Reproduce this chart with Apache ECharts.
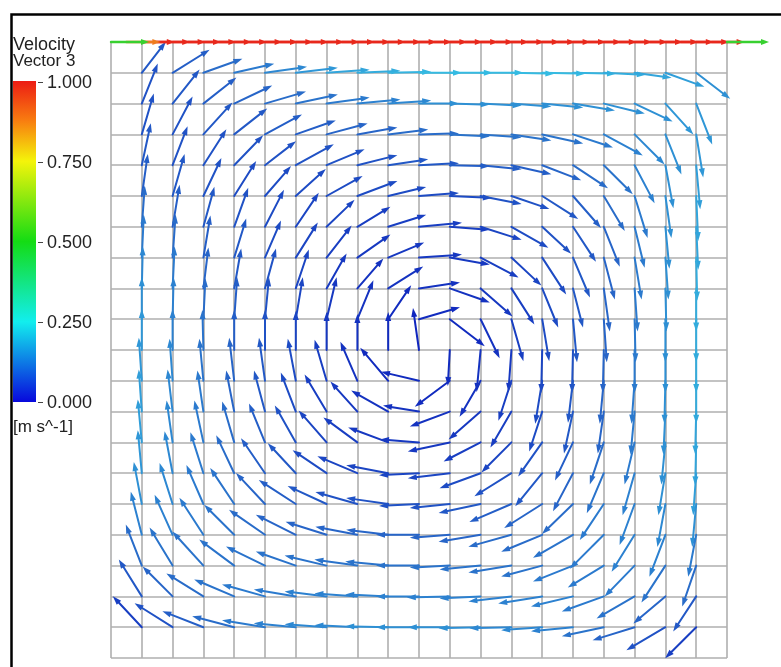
<!DOCTYPE html>
<html><head><meta charset="utf-8">
<script src="https://cdn.jsdelivr.net/npm/echarts/dist/echarts.min.js"></script>
<style>html,body{margin:0;padding:0;background:#fff}#c{width:781px;height:667px}</style>
</head><body><div id="c"></div>
<script>
// ---- data ----
// interior nodes: columns x = 1..19, rows y = 19..1 (top row first)
const nodeCols = [1,2,3,4,5,6,7,8,9,10,11,12,13,14,15,16,17,18,19];
const nodeRows = [19,18,17,16,15,14,13,12,11,10,9,8,7,6,5,4,3,2,1];
// arrow x-component (reading units, right positive)
const arrowDX = [
 [24,37,39,40,42,42,43,43,43,43,43,43,43,43,43,42,37,39,34],
 [16,27,33,38,41,42,43,43,43,40,40,41,40,41,42,41,38,28,16],
 [12,20,29,33,37,40,41,40,40,40,40,41,40,41,40,39,30,16,7],
 [9,15,23,29,31,38,38,40,40,40,40,41,40,39,35,29,20,8,4],
 [6,12,18,22,26,30,36,40,38,40,42,41,38,36,28,21,13,6,2],
 [3,7,11,14,19,23,28,33,38,43,40,41,37,29,23,16,10,4,2],
 [2,3,7,12,16,22,25,33,36,43,40,38,30,24,17,11,7,3,1],
 [1,2,5,7,11,13,20,26,35,41,40,32,23,16,10,6,3,1,0],
 [0,1,2,3,4,7,10,16,23,41,35,19,12,7,4,3,1,0,0],
 [0,0,-1,0,0,0,0,0,0,-6,-2,-4,-3,-1,-1,-1,0,0,0],
 [-3,-3,-4,-5,-6,-8,-12,-17,-28,-38,-35,-21,-13,-7,-5,-4,-3,-1,0],
 [-3,-5,-6,-8,-11,-15,-22,-27,-37,-36,-40,-32,-21,-13,-9,-6,-4,-2,-1],
 [-4,-6,-9,-12,-16,-21,-28,-34,-40,-39,-42,-37,-30,-24,-18,-14,-10,-4,-1],
 [-4,-8,-13,-18,-24,-28,-34,-40,-42,-40,-42,-41,-37,-27,-20,-17,-12,-7,-3],
 [-8,-13,-17,-24,-29,-37,-39,-42,-42,-40,-40,-42,-42,-38,-31,-24,-15,-8,-4],
 [-11,-18,-24,-30,-36,-40,-41,-42,-42,-43,-40,-42,-43,-41,-40,-34,-23,-16,-8],
 [-16,-23,-31,-35,-39,-40,-42,-43,-43,-43,-40,-41,-43,-41,-40,-36,-30,-24,-14],
 [-23,-30,-37,-40,-43,-42,-42,-43,-43,-43,-43,-41,-43,-44,-42,-42,-38,-32,-23],
 [-29,-38,-41,-42,-43,-42,-42,-43,-43,-43,-42,-42,-42,-41,-42,-42,-42,-39,-31]
];
// arrow y-component as measured on screen (down positive)
const arrowDY = [
 [-31,-23,-14,-9,-6,-5,-3,-2,-1,0,0,0,1,1,1,2,5,14,26],
 [-40,-34,-26,-18,-12,-9,-6,-4,-3,0,1,2,3,4,7,10,18,31,41],
 [-41,-38,-32,-26,-20,-14,-11,-7,-5,-1,2,3,6,9,13,21,30,40,43],
 [-42,-39,-36,-30,-24,-21,-16,-10,-6,-2,1,4,9,15,23,29,38,43,44],
 [-42,-42,-38,-35,-30,-27,-20,-15,-9,-3,2,8,13,23,32,35,42,42,45],
 [-41,-42,-40,-39,-37,-34,-27,-20,-12,-4,3,13,21,27,35,40,41,42,43],
 [-43,-43,-42,-39,-37,-35,-32,-23,-15,-3,7,20,28,37,40,42,42,42,43],
 [-42,-42,-41,-40,-40,-39,-35,-30,-22,-6,14,28,36,39,39,43,43,43,43],
 [-42,-42,-41,-42,-42,-42,-42,-39,-34,-12,27,39,42,42,43,43,43,43,43],
 [-41,-41,-40,-40,-40,-39,-38,-36,-38,-42,36,42,42,43,43,43,43,43,43],
 [-43,-42,-42,-43,-43,-42,-41,-39,-33,-9,26,36,40,43,42,43,43,43,43],
 [-42,-42,-41,-41,-41,-39,-37,-30,-21,-6,15,28,36,40,42,42,43,43,43],
 [-43,-42,-42,-41,-39,-37,-32,-25,-15,-3,9,19,30,34,38,42,42,42,43],
 [-43,-42,-41,-38,-35,-30,-23,-17,-8,2,5,15,23,33,38,40,42,42,42],
 [-42,-41,-39,-36,-31,-24,-18,-12,-6,2,4,9,18,24,30,36,41,43,43],
 [-43,-40,-37,-30,-25,-20,-13,-8,-5,0,3,7,12,17,23,34,37,42,42],
 [-41,-38,-34,-26,-19,-14,-10,-6,-4,0,2,4,7,11,16,22,31,37,41],
 [-37,-30,-23,-17,-12,-7,-5,-3,-2,0,1,2,5,7,10,15,22,27,35],
 [-31,-24,-16,-11,-7,-4,-3,-2,-1,0,0,1,1,3,4,9,13,23,31]
];
// speed in cm/s (hundredths of m/s)
const arrowSpeed = [
 [10,11,13,15,17,19,21,22,23,24,24,24,24,24,23,22,21,20,18],
 [9,10,11,12,13,14,15,16,17,18,18,18,18,18,18,18,18,19,19],
 [9,9,10,10,11,11,12,12,13,13,14,14,14,14,15,16,17,18,19],
 [10,9,9,9,9,9,9,9,10,10,11,11,11,12,13,14,16,18,20],
 [11,10,9,8,8,8,8,8,8,8,8,9,9,10,11,13,15,18,21],
 [13,11,10,9,8,7,7,6,6,6,6,7,8,9,10,12,15,18,21],
 [15,13,11,10,8,7,6,5,5,5,5,6,7,8,10,12,15,18,22],
 [17,15,12,10,9,7,5,4,4,4,4,5,6,8,10,12,15,18,22],
 [18,16,13,11,9,7,5,4,3,3,3,4,6,8,10,12,15,18,22],
 [19,16,14,11,9,7,5,4,3,2,3,4,5,7,9,12,15,18,22],
 [19,17,14,12,10,8,6,4,3,3,3,4,6,8,10,12,15,18,22],
 [20,17,15,12,10,8,6,5,4,4,4,5,6,8,10,12,15,18,21],
 [20,17,15,13,11,9,7,6,5,5,5,6,7,9,11,13,15,18,21],
 [19,17,15,13,11,10,8,7,7,7,7,8,9,10,12,14,16,18,20],
 [18,17,15,14,12,11,10,9,9,9,9,10,11,12,13,15,16,17,18],
 [16,16,15,14,13,12,12,12,12,12,12,12,13,13,14,15,16,16,15],
 [13,14,14,14,14,14,14,14,14,14,14,14,14,14,15,15,15,14,13],
 [10,12,13,14,15,15,16,16,16,16,16,16,16,16,16,15,14,12,10],
 [6,9,11,13,15,16,17,17,18,18,18,18,17,17,16,14,12,9,6]
];
// moving lid (top wall, y = 20)
const lidX = [0,0.5,1,1.5,2,2.5,3,3.5,4,4.5,5,5.5,6,6.5,7,7.5,8,8.5,9,9.5,10,10.5,11,11.5,12,12.5,13,13.5,14,14.5,15,15.5,16,16.5,17,17.5,18,18.5,19,19.5,20];
const lidDX = [38,34,33,33,33,33,33,33,33,33,33,33,33,33,33,33,33,33,33,33,33,33,33,33,33,33,33,33,33,33,33,33,33,33,33,33,33,33,33,33,42];
const lidSpeed = [0.5,0.9,1,1,1,1,1,1,1,1,1,1,1,1,1,1,1,1,1,1,1,1,1,1,1,1,1,1,1,1,1,1,1,1,1,1,1,1,1,1,0.5];
// legend
const legendValues = [1, 0.75, 0.5, 0.25, 0];
const legendLabels = ['1.000', '0.750', '0.500', '0.250', '0.000'];
const legendTitle = 'Velocity';
const legendSubtitle = 'Vector 3';
const legendUnit = '[m s^-1]';

// ---- build chart ----
const READ_TO_DATA = 1 / 30.8; // reading units (screen px at reference size) -> cell units
const nodeData = [];
for (let r = 0; r < nodeRows.length; r++) {
  for (let c = 0; c < nodeCols.length; c++) {
    nodeData.push([nodeCols[c], nodeRows[r], arrowDX[r][c], -arrowDY[r][c], arrowSpeed[r][c] / 100]);
  }
}
const lidData = lidX.map((x, k) => [x, 20, lidDX[k], 0, lidSpeed[k]])
  .sort((a, b) => b[4] - a[4]);

function makeArrow(lineW, headL, headW) {
  return function (params, api) {
    const x = api.value(0), y = api.value(1), u = api.value(2), v = api.value(3);
    const p0 = api.coord([x, y]);
    const p1 = api.coord([x + u * READ_TO_DATA, y + v * READ_TO_DATA]);
    const color = api.visual('color');
    const ddx = p1[0] - p0[0], ddy = p1[1] - p0[1];
    const L = Math.hypot(ddx, ddy) || 1;
    const ux = ddx / L, uy = ddy / L;
    const bx = p1[0] - ux * headL, by = p1[1] - uy * headL;
    return {
      type: 'group',
      children: [
        { type: 'line', shape: { x1: p0[0], y1: p0[1], x2: bx + ux * 1, y2: by + uy * 1 },
          style: { stroke: color, lineWidth: lineW, lineCap: 'round' } },
        { type: 'polygon', shape: { points: [[p1[0], p1[1]], [bx - uy * headW, by + ux * headW], [bx + uy * headW, by - ux * headW]] },
          style: { fill: color } }
      ]
    };
  };
}

const chart = echarts.init(document.getElementById('c'), null, { renderer: 'canvas' });
const barTop = 82.5, barH = 320;
const graphics = [
  { type: 'rect', left: 9, top: 12, shape: { x: 0, y: 0, width: 800, height: 700 },
    style: { fill: 'none', stroke: '#000', lineWidth: 2.5 }, z: 100 },
  { type: 'text', style: { x: 13, y: 45, text: legendTitle, font: '18px "Liberation Sans", Arial, sans-serif', fill: '#222', verticalAlign: 'middle' } },
  { type: 'text', style: { x: 13, y: 61, text: legendSubtitle, font: '17px "Liberation Sans", Arial, sans-serif', fill: '#222', verticalAlign: 'middle' } },
  { type: 'rect', shape: { x: 13, y: 81, width: 23, height: 321 },
    style: { fill: { type: 'linear', x: 0, y: 0, x2: 0, y2: 1, colorStops: [
      { offset: 0, color: '#ec1c14' }, { offset: 0.12, color: '#f87a10' }, { offset: 0.25, color: '#f4f40a' },
      { offset: 0.5, color: '#14dc14' }, { offset: 0.75, color: '#12eeee' }, { offset: 1, color: '#0808dc' } ] } } },
  { type: 'text', style: { x: 13, y: 427, text: legendUnit, font: '17px "Liberation Sans", Arial, sans-serif', fill: '#222', verticalAlign: 'middle' } }
];
legendValues.forEach((v, k) => {
  const y = barTop + (1 - v) * barH;
  graphics.push({ type: 'line', shape: { x1: 38, y1: y, x2: 43, y2: y }, style: { stroke: '#444', lineWidth: 1 } });
  graphics.push({ type: 'text', style: { x: 47, y: y + 1, text: legendLabels[k], font: '18px "Liberation Sans", Arial, sans-serif', fill: '#222', verticalAlign: 'middle' } });
});

const axisCommon = {
  type: 'value', min: 0, max: 20, interval: 1,
  axisLabel: { show: false }, axisTick: { show: false }, axisLine: { show: false },
  splitLine: { show: true, lineStyle: { color: '#afafaf', width: 1.6 } }
};

chart.setOption({
  animation: false,
  backgroundColor: '#fff',
  grid: { left: 111, top: 42, width: 616, height: 616 },
  xAxis: axisCommon,
  yAxis: axisCommon,
  visualMap: {
    type: 'continuous', show: false, min: 0, max: 1, dimension: 4, seriesIndex: [0, 1],
    inRange: { color: ['#0a18bc', '#2868c8', '#36c2e4', '#30d8a8', '#38d030', '#a0e020', '#f0f020', '#f09020', '#e8281c'] }
  },
  graphic: graphics,
  series: [
    { type: 'custom', name: 'nodes', renderItem: makeArrow(2, 9, 3), data: nodeData,
      encode: { x: 0, y: 1 }, clip: false, z: 3 },
    { type: 'custom', name: 'lid', renderItem: makeArrow(2.4, 8, 3), data: lidData,
      encode: { x: 0, y: 1 }, clip: false, z: 4 }
  ]
});
</script></body></html>
